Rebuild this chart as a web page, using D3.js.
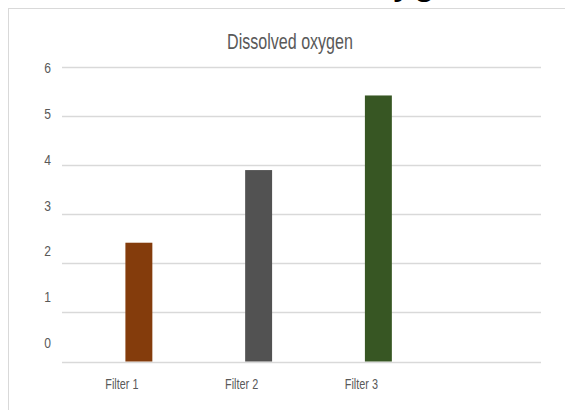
<!DOCTYPE html>
<html>
<head>
<meta charset="utf-8">
<script src="https://cdn.jsdelivr.net/npm/d3@7"></script>
<style>
  html, body { margin: 0; padding: 0; background: #fff; }
  svg { display: block; }
  text { font-family: "Liberation Sans", Arial, sans-serif; }
</style>
</head>
<body>
<script>
// Dissolved oxygen per filter
const categories = ["Filter 1", "Filter 2", "Filter 3"];
const values = [2.42, 3.9, 5.42];
const barColors = ["#843c0c", "#525252", "#375623"];
const yTicks = [0, 1, 2, 3, 4, 5, 6];
const chartTitle = "Dissolved oxygen";

const W = 565, H = 410;
const svg = d3.select("body").append("svg")
  .attr("width", W).attr("height", H);

// slide heading above the chart frame (only its lower edge shows)
svg.append("text")
  .attr("x", 480).attr("y", -6)
  .attr("text-anchor", "end")
  .attr("font-size", 40)
  .attr("fill", "#000")
  .text(chartTitle);

// chart frame
svg.append("rect")
  .attr("x", 8.5).attr("y", 8.5)
  .attr("width", W + 20).attr("height", H + 20)
  .attr("fill", "#fff")
  .attr("stroke", "#d9d9d9");

const plotLeft = 62, plotRight = 541;
const y = d3.scaleLinear().domain([0, 6]).range([361.5, 67]);
// tick labels sit on a slightly tighter spacing than the grid
const yLabel = d3.scaleLinear().domain([0, 6]).range([348, 73]);

const xLabel = d3.scaleBand().domain(categories)
  .range([62, 421.25]).paddingInner(0.775).paddingOuter(0.3875);
const xBar = d3.scaleBand().domain(categories)
  .range([79, 438.25]).paddingInner(0.775).paddingOuter(0.3875);

// gridlines
svg.append("g").selectAll("line").data(yTicks).join("line")
  .attr("x1", plotLeft).attr("x2", plotRight)
  .attr("y1", d => Math.round(y(d)) + 0.5)
  .attr("y2", d => Math.round(y(d)) + 0.5)
  .attr("stroke", "#d9d9d9")
  .attr("stroke-width", 1.3);

// y tick labels
svg.append("g").selectAll("text").data(yTicks).join("text")
  .attr("transform", d => `translate(51,${yLabel(d)}) scale(0.78,1)`)
  .attr("text-anchor", "end")
  .attr("font-size", 15.5)
  .attr("fill", "#595959")
  .text(d => d);

// bars
svg.append("g").selectAll("rect").data(categories).join("rect")
  .attr("x", d => xBar(d))
  .attr("width", xBar.bandwidth())
  .attr("y", (d, i) => y(values[i]))
  .attr("height", (d, i) => y(0) - y(values[i]))
  .attr("fill", (d, i) => barColors[i]);

// category labels
svg.append("g").selectAll("text").data(categories).join("text")
  .attr("transform", d => `translate(${xLabel(d) + xLabel.bandwidth() / 2},389) scale(0.7,1)`)
  .attr("text-anchor", "middle")
  .attr("font-size", 15.5)
  .attr("fill", "#595959")
  .text(d => d);

// chart title
svg.append("text")
  .attr("transform", "translate(290,49) scale(0.73,1)")
  .attr("text-anchor", "middle")
  .attr("font-size", 22)
  .attr("fill", "#595959")
  .text(chartTitle);
</script>
</body>
</html>
